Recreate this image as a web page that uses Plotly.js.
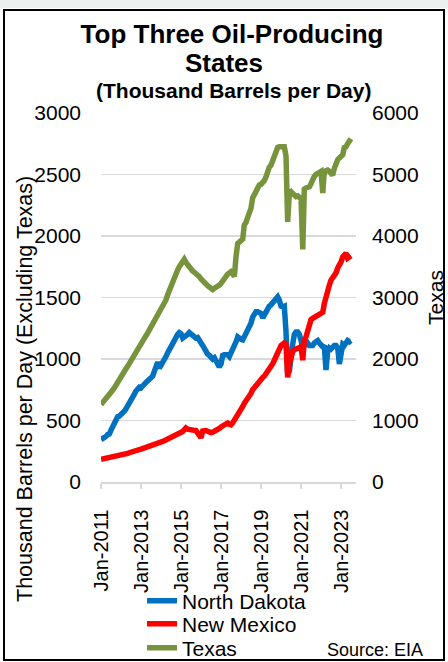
<!DOCTYPE html>
<html>
<head>
<meta charset="utf-8">
<script src="https://cdn.plot.ly/plotly-3.0.1.min.js"></script>
<style>
  html, body { margin: 0; padding: 0; background: #ffffff; }
  #chart { width: 448px; height: 662px; }
</style>
</head>
<body>
<div id="chart"></div>
<script>
// Monthly production, thousand barrels per day, Jan-2011 .. Jul-2023
const startYear = 2011;
const seriesNames = ['North Dakota', 'New Mexico', 'Texas'];

const northDakota = [
  345, 350, 355, 370, 385, 390, 420, 450, 480, 510, 530, 535,
  545, 560, 575, 595, 615, 640, 665, 690, 715, 740, 755, 770,
  765, 775, 795, 810, 820, 835, 850, 860, 900, 950, 975, 925,
  950, 955, 990, 1020, 1050, 1075, 1100, 1130, 1170, 1180, 1200, 1215,
  1205, 1170, 1185, 1190, 1200, 1215, 1200, 1185, 1175, 1170, 1175, 1160,
  1130, 1110, 1080, 1055, 1040, 1030, 1015, 1000, 1010, 990, 970, 935,
  960, 1030, 1035, 1040, 1035, 1020, 1050, 1080, 1090, 1140, 1180, 1165,
  1160, 1155, 1180, 1200, 1230, 1250, 1290, 1340, 1360, 1385, 1385, 1375,
  1370, 1335, 1360, 1390, 1420, 1430, 1440, 1460, 1480, 1500, 1505, 1480,
  1430, 1425, 1430, 1220, 880, 900, 1040, 1120, 1200, 1220, 1220, 1200,
  1150, 1080, 1110, 1120, 1130, 1110, 1110, 1110, 1130, 1140, 1150, 1130,
  1120, 1100, 1110, 910, 1060, 1090, 1080, 1100, 1110, 1110, 1090, 960,
  1060, 1120, 1110, 1130, 1150, 1140, 1150
];

const newMexico = [
  185, 188, 190, 192, 195, 197, 199, 200, 202, 203, 205, 210,
  215, 220, 225, 228, 232, 238, 244, 248, 252, 256, 260, 264,
  268, 272, 276, 281, 285, 290, 295, 300, 305, 310, 315, 318,
  325, 330, 336, 342, 348, 352, 358, 365, 372, 380, 388, 394,
  398, 410, 425, 440, 430, 425, 428, 422, 420, 418, 400, 380,
  360, 415, 420, 418, 412, 405, 402, 405, 410, 415, 425, 435,
  447, 455, 465, 478, 480, 470, 465, 480, 500, 530, 550, 565,
  590, 615, 640, 660, 670, 690, 720, 750, 770, 775, 790, 810,
  830, 850, 860, 880, 890, 905, 925, 960, 990, 1020, 1050, 1095,
  1110, 1120, 1130, 1120, 850, 960, 1030, 1060, 1075, 1080, 1090, 1100,
  1100, 990, 1150, 1180, 1230, 1290, 1320, 1330, 1340, 1350, 1360, 1370,
  1370, 1380, 1450, 1520, 1570, 1600, 1640, 1660, 1680, 1700, 1740, 1760,
  1790, 1830, 1845, 1860, 1820, 1830, 1840
];

const texas = [
  1260, 1290, 1320, 1350, 1380, 1420, 1460, 1490, 1530, 1580, 1620, 1670,
  1700, 1740, 1790, 1840, 1880, 1930, 1980, 2030, 2070, 2120, 2170, 2210,
  2250, 2290, 2330, 2380, 2420, 2470, 2500, 2540, 2590, 2630, 2680, 2720,
  2770, 2830, 2900, 2960, 3040, 3120, 3180, 3250, 3320, 3400, 3450, 3500,
  3540, 3560, 3620, 3570, 3530, 3490, 3460, 3430, 3410, 3390, 3370, 3340,
  3300, 3280, 3250, 3220, 3190, 3160, 3140, 3130, 3150, 3160, 3170, 3200,
  3230, 3280, 3300, 3370, 3380, 3400, 3420, 3390, 3340, 3660, 3880, 3900,
  3920, 3950, 4180, 4220, 4300, 4380, 4450, 4620, 4680, 4750, 4800, 4830,
  4840, 4860, 4900, 4960, 5080, 5120, 5150, 5220, 5300, 5380, 5440, 5450,
  5440, 5450, 5450, 5300, 4230, 4700, 4720, 4680, 4650, 4640, 4650, 4630,
  4600, 3780, 4760, 4780, 4790, 4800, 4850, 4950, 4970, 5000, 5020, 5040,
  5050, 4700, 5040, 5060, 5070, 5050, 5000, 4990, 5100, 5200, 5240, 5270,
  5290, 5320, 5440, 5450, 5500, 5540, 5580
];

const leftTicks = [0, 500, 1000, 1500, 2000, 2500, 3000];
const rightTicks = [0, 1000, 2000, 3000, 4000, 5000, 6000];

// month dates for the category axis
const months = [];
for (let i = 0; i < texas.length; i++) {
  const d = new Date(Date.UTC(startYear, i, 1));
  months.push(d.toISOString().slice(0, 10));
}

const FONT = 'Liberation Sans, Arial, sans-serif';
const LW = 5.5;

const traces = [
  { x: months, y: northDakota, name: seriesNames[0], type: 'scatter', mode: 'lines',
    line: { color: '#0070C0', width: LW }, yaxis: 'y', legend: 'legend' },
  { x: months, y: newMexico, name: seriesNames[1], type: 'scatter', mode: 'lines',
    line: { color: '#FF0000', width: LW }, yaxis: 'y', legend: 'legend2' },
  { x: months, y: texas, name: seriesNames[2], type: 'scatter', mode: 'lines',
    line: { color: '#77933C', width: LW }, yaxis: 'y2', legend: 'legend3' }
];

const W = 448, H = 662;
const L = 101, R = 92, T = 113, B = 180;
const pw = W - L - R, ph = H - T - B;
const px = (x) => (x - L) / pw;
const py = (y) => (H - B - y) / ph;

function legendAt(yCenter) {
  return {
    xref: 'paper', yref: 'paper',
    x: px(142), xanchor: 'left',
    y: py(yCenter), yanchor: 'middle',
    orientation: 'v',
    bgcolor: 'rgba(0,0,0,0)',
    borderwidth: 0,
    font: { family: FONT, size: 21, color: '#000000' }
  };
}

const layout = {
  width: W, height: H,
  margin: { l: L, r: R, t: T, b: B, pad: 0, autoexpand: false },
  paper_bgcolor: '#ffffff',
  plot_bgcolor: '#ffffff',
  font: { family: FONT, size: 21, color: '#000000' },
  title: {
    text: 'Top Three Oil-Producing',
    font: { family: FONT, size: 26, weight: 'bold', color: '#000000' },
    xref: 'container', yref: 'container',
    x: 232 / W, xanchor: 'center',
    y: 1 - 34 / H, yanchor: 'middle'
  },
  showlegend: true,
  legend: legendAt(601),
  legend2: legendAt(624),
  legend3: legendAt(648),
  xaxis: {
    type: 'date',
    range: ['2011-01-01', '2023-10-01'],
    tick0: '2011-01-01',
    dtick: 'M24',
    tickformat: '%b-%Y',
    tickangle: -90,
    ticks: 'outside', ticklen: 5, tickwidth: 1.5, tickcolor: '#d9d9d9',
    showline: true, linecolor: '#d9d9d9', linewidth: 1.5,
    showgrid: false, zeroline: false,
    tickfont: { family: FONT, size: 20, color: '#000000' },
    ticklabelstandoff: 13,
    fixedrange: true
  },
  yaxis: {
    range: [0, 3000],
    tickmode: 'array', tickvals: leftTicks, ticktext: leftTicks.map(String),
    showgrid: true, gridcolor: '#d9d9d9', gridwidth: 1.5,
    zeroline: false, showline: false, ticks: '',
    tickfont: { family: FONT, size: 21, color: '#000000' },
    ticklabelstandoff: 19,
    fixedrange: true
  },
  yaxis2: {
    range: [0, 6000],
    overlaying: 'y', side: 'right',
    tickmode: 'array', tickvals: rightTicks, ticktext: rightTicks.map(String),
    showgrid: false, zeroline: false, showline: false, ticks: '',
    tickfont: { family: FONT, size: 21, color: '#000000' },
    ticklabelstandoff: 15,
    title: { text: 'Texas', font: { family: FONT, size: 21, color: '#000000' }, standoff: 10 },
    fixedrange: true
  },
  annotations: [
    { text: 'States', xref: 'paper', yref: 'paper', x: px(224), y: py(63),
      xanchor: 'center', yanchor: 'middle', showarrow: false,
      font: { family: FONT, size: 26, weight: 'bold', color: '#000000' } },
    { text: '(Thousand Barrels per Day)', xref: 'paper', yref: 'paper', x: px(233), y: py(90),
      xanchor: 'center', yanchor: 'middle', showarrow: false,
      font: { family: FONT, size: 21, weight: 'bold', color: '#000000' } },
    { text: 'Thousand Barrels per Day (Excluding Texas)', xref: 'paper', yref: 'paper',
      x: px(25), y: py(389), textangle: -90,
      xanchor: 'center', yanchor: 'middle', showarrow: false,
      font: { family: FONT, size: 21.5, color: '#000000' } },
    { text: 'Source: EIA', xref: 'paper', yref: 'paper', x: px(425), y: py(650),
      xanchor: 'right', yanchor: 'middle', showarrow: false,
      font: { family: FONT, size: 18, color: '#000000' } }
  ],
  shapes: [
    { type: 'rect', xref: 'paper', yref: 'paper', layer: 'below',
      x0: px(0), x1: px(448), y0: py(0), y1: py(8),
      fillcolor: '#eef0f0', line: { width: 0 } },
    { type: 'rect', xref: 'paper', yref: 'paper', layer: 'above',
      x0: px(4), x1: px(444), y0: py(10), y1: py(660),
      fillcolor: 'rgba(0,0,0,0)', line: { color: '#000000', width: 2 } }
  ]
};

Plotly.newPlot('chart', traces, layout, { staticPlot: true, displayModeBar: false });
</script>
</body>
</html>
